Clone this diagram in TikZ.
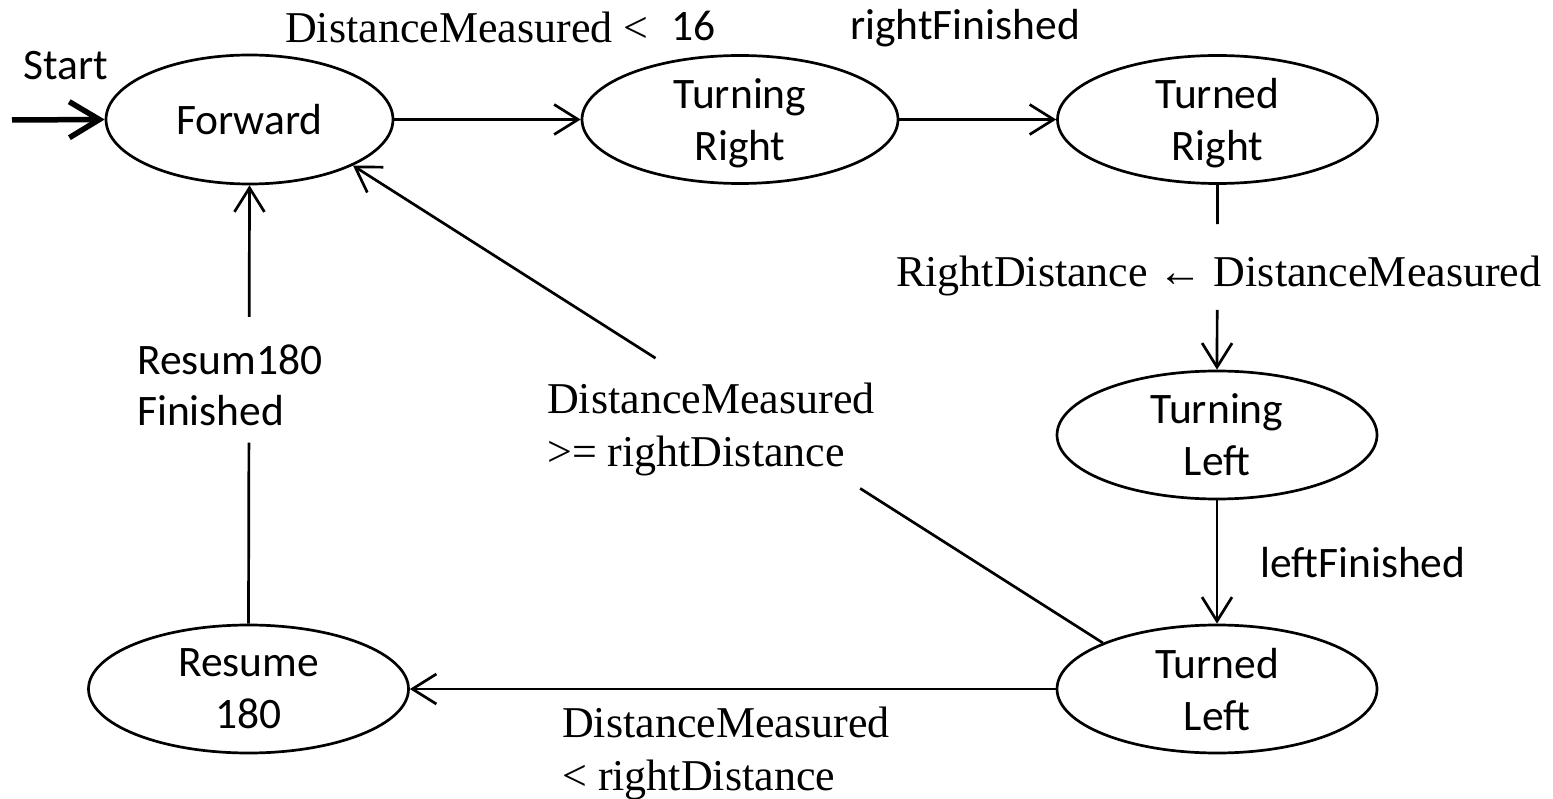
\documentclass[tikz,border=0pt]{standalone}
\usepackage{fontspec}
\setmainfont{Liberation Serif}
\newfontfamily\calibrifont{Carlito}
\usetikzlibrary{shapes.geometric,arrows.meta,calc}
\begin{document}
\begin{tikzpicture}[x=1pt,y=-1pt,
  state/.style={ellipse, draw, line width=2.7pt, inner sep=0pt, align=center,
    font=\calibrifont\fontsize{43.5}{52}\selectfont, text depth=0pt,
    minimum width=320pt, minimum height=128pt},
  edge/.style={line width=2.7pt, -{Straight Barb[length=24pt,width=30pt,line width=2.7pt]}},
  plain/.style={line width=2.7pt},
  startarrow/.style={line width=5.5pt, -{Straight Barb[length=30pt,width=36pt,line width=5.5pt]}},
  sans/.style={font=\calibrifont\fontsize{43.5}{51}\selectfont, inner sep=0pt, align=left},
  serif/.style={font=\fontsize{44}{53}\selectfont, inner sep=0pt, align=left}]
\useasboundingbox (0,0) rectangle (1553,799);

% states
\node[state, minimum width=287pt, minimum height=129pt] (F) at (249.5,119.5) {Forward};
\node[state, minimum width=316pt] (TR) at (740,119.5) {Turning\\Right};
\node[state] (TdR) at (1217.5,119.5) {Turned\\Right};
\node[state] (TgL) at (1217,435) {Turning\\Left};
\node[state] (TdL) at (1217,689) {Turned\\Left};
\node[state] (R) at (248.5,689) {Resume\\180};

% start
\coordinate (s0) at (12,120);
\node[sans, anchor=base west] (startlbl) at (23,80) {Start};
\draw[startarrow] (s0) -- (F.west);

% top row
\draw[edge] (F.east) -- (TR.west);
\node[serif, anchor=base west] (lblA) at (285,43) {DistanceMeasured <};
\node[sans, anchor=base west] (lblA2) at (671,41) {16};
\draw[edge] (TR.east) -- (TdR.west);
\node[sans, anchor=base west] (lblB) at (850,40) {rightFinished};

% Turned Right -> Turning Left
\draw[plain] (TdR.south) -- ($(TdR.south)!0.213!(TgL.north)$);
\draw[edge] ($(TdR.south)!0.676!(TgL.north)$) -- (TgL.north);
\node[serif, anchor=base west] (lblC) at (896,287) {RightDistance ← DistanceMeasured};

% Turning Left -> Turned Left
\draw[edge] (TgL.south) -- (TdL.north);
\node[sans, anchor=base west] (lblD) at (1260,577) {leftFinished};

% Turned Left -> Resume 180
\draw[edge] (TdL.west) -- (R.east);
\node[serif, anchor=base west] (lblE) at (562,790) {DistanceMeasured\\< rightDistance};

% Turned Left -> Forward
\draw[plain] (TdL.158) -- ($(TdL.158)!0.3236!(F.-24)$);
\draw[edge] ($(TdL.158)!0.5965!(F.-24)$) -- (F.-24);
\node[serif, anchor=base west] (lblF) at (547,466) {DistanceMeasured\\>= rightDistance};

% Resume 180 -> Forward
\draw[plain] (R.north) -- ($(R.north)!0.413!(F.south)$);
\draw[edge] ($(R.north)!0.70!(F.south)$) -- (F.south);
\node[sans, anchor=base west] (lblG) at (137,425) {Resum180\\Finished};
\end{tikzpicture}
\end{document}
